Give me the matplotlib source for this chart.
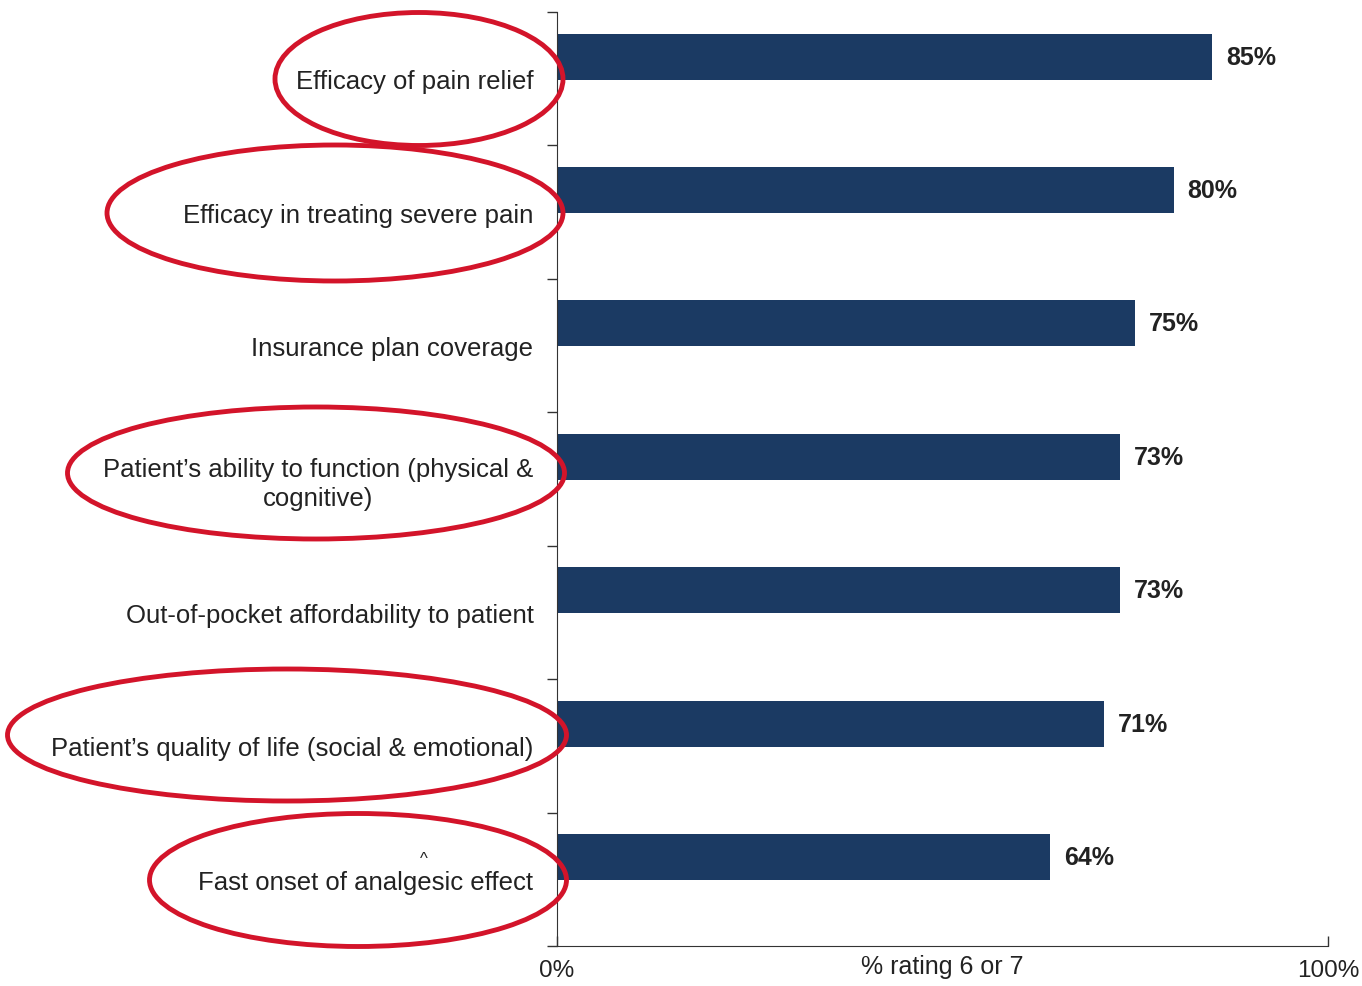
import matplotlib.pyplot as plt
from matplotlib.patches import Ellipse

plt.rcParams["font.family"] = ["Liberation Sans", "DejaVu Sans"]

attributes = [
    "Efficacy of pain relief",
    "Efficacy in treating severe pain",
    "Insurance plan coverage",
    "Patient\u2019s ability to function (physical &\ncognitive)",
    "Out-of-pocket affordability to patient",
    "Patient\u2019s quality of life (social & emotional)",
    "Fast onset of analgesic effect",
]
rating_pct = [85, 80, 75, 73, 73, 71, 64]
circled = [True, True, False, True, False, True, True]
x_ticks = [0, 100]
x_tick_labels = ["0%", "100%"]

navy = "#1b3a63"
red = "#d3142a"

fig = plt.figure(figsize=(13.62, 9.87), dpi=100)
ax = fig.add_axes([0.409, 0.0405, 0.566, 0.9465])

ypos = list(range(len(attributes)))
# bars sit in the upper part of each category slot
bar_y = [y - 0.165 for y in ypos]
ax.barh(bar_y, rating_pct, height=0.345, color=navy)
ax.set_ylim(len(attributes) - 0.5, -0.5)
ax.set_xlim(0, 100)

for y, v in zip(bar_y, rating_pct):
    ax.text(v + 1.8, y, f"{v}%", va="center", ha="left",
            fontsize=18, fontweight="bold", color="#222222")

# category labels, right aligned next to the axis
ax.set_yticks(ypos)
ax.set_yticklabels(attributes, fontsize=18.5, color="#222222",
                   multialignment="center", linespacing=1.25)
ax.tick_params(axis="y", which="major", length=0, pad=17)
ax.set_yticks([y - 0.5 for y in range(len(attributes) + 1)], minor=True)
ax.tick_params(axis="y", which="minor", direction="out", length=7,
               width=1, color="#333333")

ax.set_xticks(x_ticks)
ax.set_xticklabels(x_tick_labels, fontsize=17.5, color="#222222")
ax.tick_params(axis="x", direction="in", length=7, width=1,
               color="#333333", pad=9)
ax.text(0.5, -0.008, "% rating 6 or 7", transform=ax.transAxes,
        ha="center", va="top", fontsize=18, color="#222222")

ax.spines["top"].set_visible(False)
ax.spines["right"].set_visible(False)
ax.spines["left"].set_color("#333333")
ax.spines["bottom"].set_color("#333333")

# red rings around the circled attributes (figure pixel layout)
W, H = 1362, 987
rings = {0: (419, 80, 288, 133), 1: (335, 214, 456, 136),
         3: (316, 474, 497, 132), 5: (287, 736, 559, 132),
         6: (358, 881, 417, 133)}
for i, flag in enumerate(circled):
    if not flag:
        continue
    cx, cy, w, h = rings[i]
    fig.patches.append(Ellipse((cx / W, 1 - cy / H), w / W, h / H,
                               transform=fig.transFigure, fill=False,
                               edgecolor=red, linewidth=3.5))

# insertion caret above "analgesic"
fig.text(424 / W, 1 - 860 / H, "^", ha="center", va="center",
         fontsize=12, color="#222222")

fig.savefig("out.png", dpi=100)
